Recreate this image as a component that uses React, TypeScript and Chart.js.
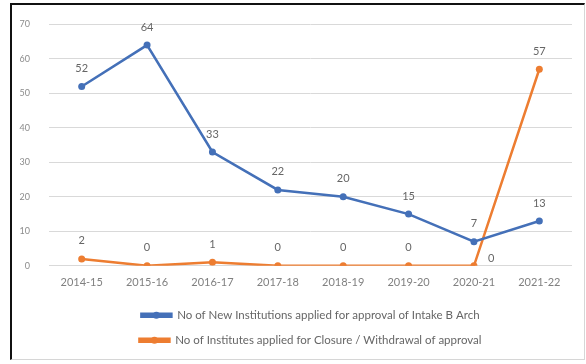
import React, { useEffect, useRef } from "react";
import { Chart, registerables } from "chart.js";

Chart.register(...registerables);

const categories = ["2014-15", "2015-16", "2016-17", "2017-18", "2018-19", "2019-20", "2020-21", "2021-22"];
const newInstitutions = [52, 64, 33, 22, 20, 15, 7, 13];
const closures = [2, 0, 1, 0, 0, 0, 0, 57];
const seriesNames = [
  "No of New Institutions applied for approval of Intake B Arch",
  "No of Institutes applied for Closure / Withdrawal of approval",
];
const yTicks = [0, 10, 20, 30, 40, 50, 60, 70];

const BLUE = "#4470B8";
const ORANGE = "#ED7D31";
const FONT = "Lato, 'Open Sans', sans-serif";

const dataLabelPlugin = {
  id: "dataLabels",
  afterDatasetsDraw(chart: any) {
    const ctx = chart.ctx;
    ctx.save();
    ctx.font = `11px ${FONT}`;
    ctx.fillStyle = "#666666";
    ctx.textAlign = "center";
    ctx.textBaseline = "middle";
    chart.data.datasets.forEach((ds: any, di: number) => {
      const meta = chart.getDatasetMeta(di);
      meta.data.forEach((pt: any, i: number) => {
        const v = ds.data[i];
        const pos = ds.labelPos ? ds.labelPos[i] : "above";
        if (pos === "right") {
          ctx.textAlign = "left";
          ctx.fillText(String(v), pt.x + 14, pt.y - 7);
          ctx.textAlign = "center";
        } else {
          ctx.fillText(String(v), pt.x, pt.y - 18);
        }
      });
    });
    ctx.restore();
  },
};

const legendMarkerPlugin = {
  id: "legendMarkers",
  afterDraw(chart: any) {
    const legend = chart.legend;
    if (!legend || !legend.legendHitBoxes) return;
    const ctx = chart.ctx;
    ctx.save();
    legend.legendHitBoxes.forEach((hb: any, i: number) => {
      const item = legend.legendItems[i];
      const cx = hb.left + 15;
      const cy = hb.top + hb.height / 2;
      ctx.beginPath();
      ctx.arc(cx, cy, 3.5, 0, Math.PI * 2);
      ctx.fillStyle = item.fillStyle;
      ctx.fill();
    });
    ctx.restore();
  },
};

export default function App() {
  const ref = useRef<HTMLCanvasElement | null>(null);
  useEffect(() => {
    document.body.style.margin = "0";
    const chart = new Chart(ref.current as HTMLCanvasElement, {
      type: "line",
      data: {
        labels: categories,
        datasets: [
          {
            label: seriesNames[0],
            data: newInstitutions,
            borderColor: BLUE,
            backgroundColor: BLUE,
            borderWidth: 2.5,
            pointRadius: 3.5,
            pointBorderWidth: 0,
            pointBackgroundColor: BLUE,
            tension: 0,
          } as any,
          {
            label: seriesNames[1],
            data: closures,
            borderColor: ORANGE,
            backgroundColor: ORANGE,
            borderWidth: 2.5,
            pointRadius: 3.5,
            pointBorderWidth: 0,
            pointBackgroundColor: ORANGE,
            tension: 0,
            labelPos: ["above", "above", "above", "above", "above", "above", "right", "above"],
          } as any,
        ],
      },
      options: {
        animation: false,
        responsive: false,
        layout: { padding: { left: 12, right: 14, top: 16, bottom: 8 } },
        plugins: {
          tooltip: { enabled: false },
          legend: {
            position: "bottom",
            fullSize: false,
            labels: {
              boxWidth: 30,
              boxHeight: 3,
              padding: 13.5,
              color: "#666666",
              font: { family: FONT, size: 11.5 },
            },
          },
        },
        scales: {
          x: {
            offset: true,
            grid: { display: false, drawTicks: false },
            border: { display: false },
            ticks: { color: "#808080", font: { family: FONT, size: 11 }, padding: 10, maxRotation: 0 },
            afterFit(scale: any) {
              scale.height -= 3;
            },
          },
          y: {
            min: 0,
            max: 70,
            afterBuildTicks(scale: any) {
              scale.ticks = yTicks.map((v) => ({ value: v }));
            },
            grid: { color: "#D9D9D9", drawTicks: false, lineWidth: 1 },
            border: { display: false },
            ticks: { color: "#8c8c8c", font: { family: FONT, size: 9 }, padding: 19 },
            afterFit(scale: any) {
              scale.width = 37;
            },
          },
        },
      },
      plugins: [dataLabelPlugin, legendMarkerPlugin],
    });
    return () => chart.destroy();
  }, []);

  return (
    <div style={{ position: "relative", width: 586, height: 364, background: "#fff", overflow: "hidden" }}>
      <div
        style={{
          position: "absolute",
          left: 10,
          top: 3,
          width: 572,
          height: 354,
          borderLeft: "2px solid #111",
          borderTop: "2px solid #111",
          borderRight: "1px solid #d6d6d6",
          borderBottom: "1px solid #d6d6d6",
        }}
      />
      <canvas ref={ref} width={586} height={364} style={{ position: "absolute", left: 0, top: 0 }} />
    </div>
  );
}
